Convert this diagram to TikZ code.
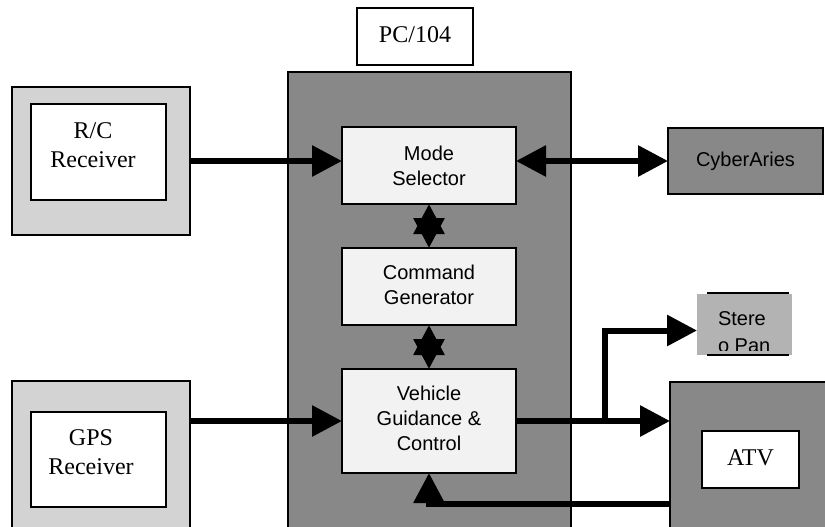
\documentclass[tikz,border=0pt]{standalone}
\usepackage{fontspec}
\setmainfont{Liberation Serif}
\setsansfont{Liberation Sans}
\usetikzlibrary{arrows.meta,fit}
\definecolor{darkbox}{HTML}{888888}
\definecolor{lightbox}{HTML}{F2F2F2}
\definecolor{framebox}{HTML}{D3D3D3}
\definecolor{panbox}{HTML}{B3B3B3}
\begin{document}
\begin{tikzpicture}[x=0.75pt,y=-0.75pt,
  every node/.style={inner sep=0pt, outer sep=0pt},
  unit/.style={draw, line width=2pt},
  inner/.style={draw, line width=1.5pt, fill=white},
  serif/.style={font=\fontsize{18}{21.75}\selectfont, align=center},
  sanstext/.style={font=\sffamily\fontsize{15}{18.75}\selectfont, align=center},
  module/.style={draw, line width=1.5pt, fill=lightbox},
  link/.style={line width=4.5pt, -{Triangle[length=22.5pt,width=22.5pt]}},
  duplex/.style={line width=4.5pt, {Triangle[length=22.5pt,width=22.5pt]}-{Triangle[length=22.5pt,width=22.5pt]}}
]
\useasboundingbox (0,0) rectangle (825,526);
\clip (0,0) rectangle (825,526);

% onboard computer
\node[draw, line width=1.5pt, fill=darkbox, fit={(288,72) (571,540)}] (pc) {};
\node[draw, line width=1.5pt, fill=white, fit={(357,8) (473,65)}] (pclabel) {};
\node[serif] (pctext) at ([yshift=1.5pt]pclabel.center) {PC/104};

% receivers
\node[unit, fill=framebox, fit={(12,87) (190,235)}] (rc) {};
\node[inner, fit={(31,104) (166,200)}] (rcbox) {};
\node[serif] (rctext) at (93,145) {R/C\\Receiver};

\node[unit, fill=framebox, fit={(12,381) (190,540)}] (gps) {};
\node[inner, fit={(31,412) (166,507)}] (gpsbox) {};
\node[serif] (gpstext) at (91,452) {GPS\\Receiver};

% software modules
\node[module, fit={(342,127) (516,204)}] (ms) {};
\node[sanstext] (mstext) at (ms.center) {Mode\\Selector};
\node[module, fit={(342,248) (516,325)}] (cg) {};
\node[sanstext] (cgtext) at ([yshift=1.5pt]cg.center) {Command\\Generator};
\node[module, fit={(342,369) (516,473)}] (vgc) {};
\node[sanstext] (vgctext) at ([yshift=2pt]vgc.center) {Vehicle\\Guidance \&\\Control};

% external units
\node[draw, line width=1.5pt, fill=darkbox, fit={(668,128) (823,194)}] (cyber) {};
\node[sanstext] (cybertext) at (cyber.center) {CyberAries};

\node[draw, line width=1.5pt, fill=darkbox, fit={(670,382) (840,540)}] (atv) {};
\node[inner, fit={(702,431) (799,488)}] (atvbox) {};
\node[serif] (atvtext) at ([yshift=1.5pt]atvbox.center) {ATV};

\node[fill=panbox, fit={(697,294) (792,355)}] (pan) {};
\draw[line width=1.5pt] (707,293) -- (789,293) (707,355) -- (789,355);
\begin{scope}
  \clip (pan.north west) rectangle ([yshift=3.75pt]pan.south east);
  \node[anchor=north west, font=\sffamily\fontsize{15}{20}\selectfont, align=left] (pantext) at (718,312) {Stere\\o Pan};
\end{scope}

% connectors
\draw[link] (rc.east) -- (rc.east -| ms.west);
\draw[duplex] (cyber.west -| ms.east) -- (cyber.west);
\draw[duplex] (ms.south) -- (cg.north);
\draw[duplex] (cg.south) -- (vgc.north);
\draw[link] (gps.east |- vgc.west) -- (vgc.west);
\draw[link] (vgc.east) -- (vgc.east -| atv.west);
\draw[link] ([xshift=66.75pt]vgc.east) |- ([yshift=-4.5pt]pan.west);
\coordinate (fb) at (0,504);
\draw[link] (atv.west |- fb) -| (vgc.south);
\end{tikzpicture}
\end{document}
